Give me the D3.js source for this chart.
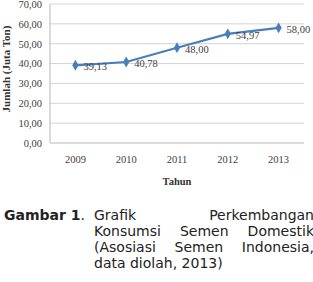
<!DOCTYPE html>
<html>
<head>
<meta charset="utf-8">
<script src="https://cdn.jsdelivr.net/npm/d3@7"></script>
<style>
  body { margin: 0; background: #fff; width: 313px; height: 282px; overflow: hidden; position: relative; }
  .cap { position: absolute; font-family: "DejaVu Sans", sans-serif; font-size: 14px; line-height: 16px; color: #222; white-space: nowrap; }
  .cap-lbl { left: 4px; top: 207px; }
  .cap-txt { left: 94px; top: 207px; width: 220px; }
  .cap-txt div { text-align: justify; text-align-last: justify; }
  .cap-txt div.last { text-align-last: left; }
</style>
</head>
<body>
<div class="chart"></div>
<div class="cap cap-lbl"><b>Gambar 1</b>.</div>
<div class="cap cap-txt">
  <div>Grafik Perkembangan</div>
  <div>Konsumsi Semen Domestik</div>
  <div>(Asosiasi Semen Indonesia,</div>
  <div class="last">data diolah, 2013)</div>
</div>
<script>
let years = ["2009", "2010", "2011", "2012", "2013"];
let konsumsi = [39.13, 40.78, 48.00, 54.97, 58.00];
let yTicks = [0, 10, 20, 30, 40, 50, 60, 70];

let margin = {top: 4, right: 9, bottom: 57, left: 50},
    width = 313 - margin.left - margin.right,
    height = 200 - margin.top - margin.bottom;

let fmt = function(v){ return d3.format(".2f")(v).replace(".", ","); };

let svg = d3.select(".chart")
            .append("svg")
              .attr("width", 313)
              .attr("height", 200)
            .append("g")
              .attr("transform", "translate(" + margin.left + "," + margin.top + ")");

let xScale = d3.scaleBand().domain(years).range([0, width]);
let yScale = d3.scaleLinear().domain([0, 70]).range([height, 0]);

// grid
svg.selectAll(".grid").data(yTicks).enter()
   .append("line")
     .attr("x1", 0).attr("x2", width)
     .attr("y1", d => yScale(d)).attr("y2", d => yScale(d))
     .attr("stroke", d => d == 0 ? "#b8b8b8" : "#d4d4d4")
     .attr("stroke-width", 1);

svg.append("line")
   .attr("x1", 0).attr("x2", 0)
   .attr("y1", 0).attr("y2", height)
   .attr("stroke", "#b8b8b8");

let yAxis = d3.axisLeft(yScale).tickValues(yTicks).tickSize(0).tickPadding(8).tickFormat(fmt);
let yAxisGroup = svg.append("g").call(yAxis);
yAxisGroup.select(".domain").remove();

let xAxis = d3.axisBottom(xScale).tickSize(0).tickPadding(13);
let xAxisGroup = svg.append("g").attr("transform", "translate(0," + height + ")").call(xAxis);
xAxisGroup.select(".domain").remove();

svg.selectAll(".tick text")
   .attr("font-family", "Liberation Serif, serif")
   .attr("font-size", "10.5px")
   .attr("fill", "#404040");

// axis titles
svg.append("text")
   .attr("x", width / 2).attr("y", height + 42)
   .attr("text-anchor", "middle")
   .attr("font-family", "Liberation Serif, serif")
   .attr("font-weight", "bold")
   .attr("font-size", "10.5px")
   .attr("fill", "#333")
   .text("Tahun");

svg.append("text")
   .attr("transform", "translate(" + (-40) + "," + 65 + ") rotate(-90)")
   .attr("text-anchor", "middle")
   .attr("font-family", "Liberation Serif, serif")
   .attr("font-weight", "bold")
   .attr("font-size", "11px")
   .attr("fill", "#333")
   .text("Jumlah (Juta Ton)");

let cx = d => xScale(d) + xScale.bandwidth() / 2;

let line = d3.line()
             .x((d, i) => cx(years[i]))
             .y(d => yScale(d));

svg.append("path")
   .datum(konsumsi)
   .attr("d", line)
   .attr("fill", "none")
   .attr("stroke", "#4a7ebb")
   .attr("stroke-width", 2.2);

svg.selectAll(".pt").data(konsumsi).enter()
   .append("path")
     .attr("d", d3.symbol().type(d3.symbolDiamond).size(34))
     .attr("transform", (d, i) => "translate(" + cx(years[i]) + "," + yScale(d) + ")")
     .attr("fill", "#4a7ebb");

svg.selectAll(".lbl").data(konsumsi).enter()
   .append("text")
     .attr("x", (d, i) => cx(years[i]) + 8)
     .attr("y", d => yScale(d) + 5)
     .attr("font-family", "Liberation Serif, serif")
     .attr("font-size", "10.5px")
     .attr("fill", "#404040")
     .text(fmt);
</script>
</body>
</html>
